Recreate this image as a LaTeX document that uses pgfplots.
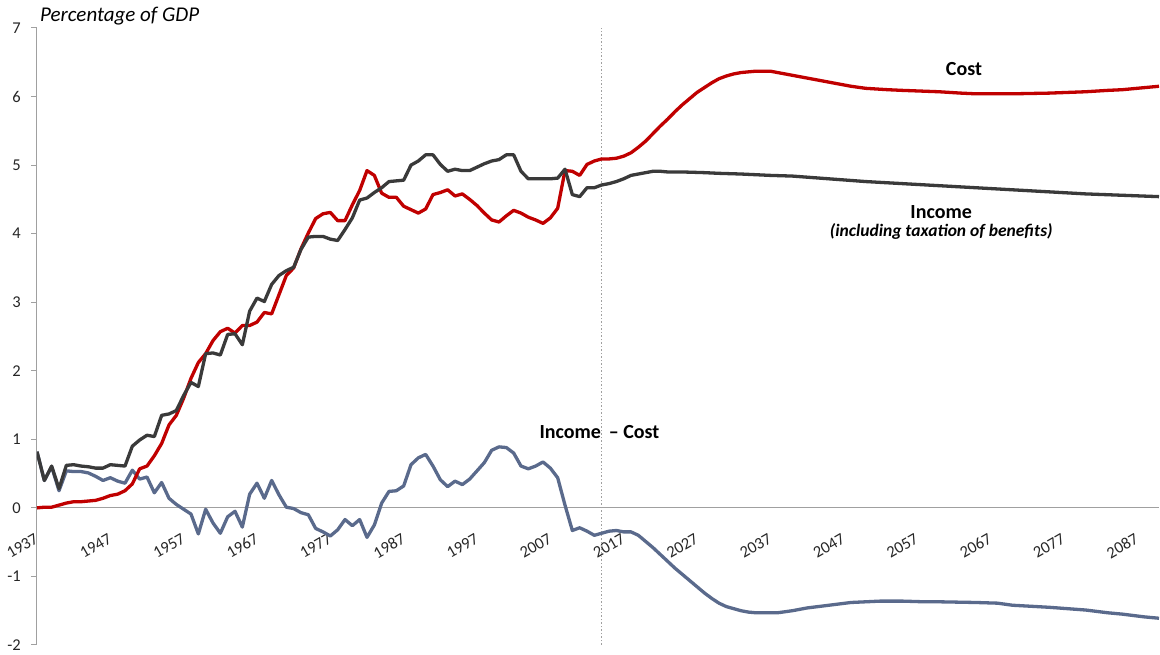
\documentclass[border=0pt]{standalone}
\usepackage{fontspec}
\setmainfont{Carlito}
\usepackage{pgfplots}
\pgfplotsset{compat=1.18}
\usepackage{pgfplotstable}

\definecolor{costred}{HTML}{C00000}
\definecolor{incgray}{HTML}{3A3A3A}
\definecolor{diffblue}{HTML}{5A6A8C}
\definecolor{axisgray}{HTML}{A0A0A0}

% Income (including taxation of benefits), % of GDP
\pgfplotstableread{
year val
1937 0.82
1938 0.40
1939 0.61
1940 0.28
1941 0.62
1942 0.63
1943 0.61
1944 0.60
1945 0.58
1946 0.58
1947 0.63
1948 0.62
1949 0.61
1950 0.90
1951 0.99
1952 1.06
1953 1.04
1954 1.35
1955 1.37
1956 1.42
1957 1.64
1958 1.83
1959 1.77
1960 2.25
1961 2.26
1962 2.23
1963 2.53
1964 2.54
1965 2.38
1966 2.87
1967 3.06
1968 3.01
1969 3.26
1970 3.39
1971 3.46
1972 3.51
1973 3.77
1974 3.95
1975 3.96
1976 3.96
1977 3.92
1978 3.90
1979 4.06
1980 4.23
1981 4.49
1982 4.52
1983 4.60
1984 4.67
1985 4.76
1986 4.77
1987 4.78
1988 5.00
1989 5.06
1990 5.15
1991 5.15
1992 5.01
1993 4.91
1994 4.94
1995 4.92
1996 4.92
1997 4.97
1998 5.02
1999 5.06
2000 5.08
2001 5.15
2002 5.15
2003 4.91
2004 4.80
2005 4.80
2006 4.80
2007 4.80
2008 4.81
2009 4.94
2010 4.57
2011 4.54
2012 4.67
2013 4.67
2014 4.71
2015 4.73
2016 4.76
2017 4.80
2018 4.85
2019 4.87
2020 4.89
2021 4.91
2022 4.91
2023 4.90
2025 4.90
2028 4.89
2030 4.88
2033 4.87
2035 4.86
2037 4.85
2040 4.84
2045 4.80
2050 4.76
2055 4.73
2060 4.70
2065 4.67
2070 4.64
2075 4.61
2080 4.58
2085 4.56
2090 4.54
}\income

% Cost, % of GDP
\pgfplotstableread{
year val
1937 0.00
1938 0.01
1939 0.01
1940 0.04
1941 0.07
1942 0.09
1943 0.09
1944 0.10
1945 0.11
1946 0.14
1947 0.18
1948 0.20
1949 0.25
1950 0.35
1951 0.57
1952 0.61
1953 0.76
1954 0.94
1955 1.21
1956 1.35
1957 1.60
1958 1.89
1959 2.12
1960 2.25
1961 2.44
1962 2.57
1963 2.62
1964 2.55
1965 2.66
1966 2.66
1967 2.71
1968 2.85
1969 2.83
1970 3.11
1971 3.39
1972 3.50
1973 3.78
1974 4.01
1975 4.22
1976 4.29
1977 4.31
1978 4.19
1979 4.19
1980 4.42
1981 4.63
1982 4.92
1983 4.85
1984 4.59
1985 4.53
1986 4.53
1987 4.40
1988 4.35
1989 4.30
1990 4.36
1991 4.57
1992 4.60
1993 4.64
1994 4.55
1995 4.58
1996 4.50
1997 4.41
1998 4.30
1999 4.20
2000 4.17
2001 4.26
2002 4.34
2003 4.30
2004 4.24
2005 4.20
2006 4.15
2007 4.23
2008 4.37
2009 4.92
2010 4.91
2011 4.85
2012 5.01
2013 5.06
2014 5.09
2015 5.09
2016 5.10
2017 5.13
2018 5.18
2019 5.26
2020 5.35
2021 5.46
2022 5.57
2023 5.67
2024 5.78
2025 5.88
2026 5.97
2027 6.06
2028 6.13
2029 6.20
2030 6.26
2031 6.30
2032 6.33
2033 6.35
2034 6.36
2035 6.37
2036 6.37
2037 6.37
2038 6.35
2040 6.31
2042 6.27
2045 6.21
2048 6.15
2050 6.12
2053 6.10
2055 6.09
2060 6.07
2063 6.05
2065 6.04
2070 6.04
2075 6.05
2080 6.07
2083 6.09
2085 6.10
2088 6.13
2090 6.15
}\cost

% Income - Cost, % of GDP
\pgfplotstableread{
year val
1937 0.82
1938 0.40
1939 0.60
1940 0.25
1941 0.54
1942 0.53
1943 0.53
1944 0.51
1945 0.46
1946 0.40
1947 0.44
1948 0.39
1949 0.36
1950 0.55
1951 0.42
1952 0.45
1953 0.22
1954 0.37
1955 0.14
1956 0.05
1957 -0.02
1958 -0.09
1959 -0.38
1960 -0.02
1961 -0.22
1962 -0.37
1963 -0.13
1964 -0.05
1965 -0.28
1966 0.20
1967 0.36
1968 0.14
1969 0.40
1970 0.19
1971 0.01
1972 -0.01
1973 -0.07
1974 -0.10
1975 -0.30
1976 -0.35
1977 -0.41
1978 -0.32
1979 -0.17
1980 -0.26
1981 -0.17
1982 -0.43
1983 -0.25
1984 0.07
1985 0.24
1986 0.25
1987 0.32
1988 0.63
1989 0.73
1990 0.78
1991 0.61
1992 0.41
1993 0.31
1994 0.39
1995 0.34
1996 0.42
1997 0.54
1998 0.66
1999 0.84
2000 0.89
2001 0.88
2002 0.80
2003 0.61
2004 0.57
2005 0.61
2006 0.67
2007 0.58
2008 0.44
2009 0.04
2010 -0.33
2011 -0.29
2012 -0.34
2013 -0.40
2014 -0.37
2015 -0.34
2016 -0.33
2017 -0.35
2018 -0.35
2019 -0.40
2020 -0.49
2021 -0.58
2022 -0.68
2023 -0.78
2024 -0.88
2025 -0.97
2026 -1.06
2027 -1.15
2028 -1.24
2029 -1.32
2030 -1.39
2031 -1.44
2032 -1.47
2033 -1.50
2034 -1.52
2035 -1.53
2038 -1.53
2040 -1.50
2042 -1.46
2045 -1.42
2048 -1.38
2050 -1.37
2052 -1.36
2055 -1.36
2058 -1.37
2060 -1.37
2065 -1.38
2068 -1.39
2070 -1.42
2075 -1.45
2080 -1.49
2083 -1.53
2085 -1.55
2088 -1.59
2090 -1.61
}\diff

\newcommand\tickfont{\fontsize{16.5}{20}\selectfont}

\begin{document}
\begin{tikzpicture}
\begin{axis}[
    scale only axis,
    width=1122pt, height=617pt,
    xmin=1937, xmax=2090,
    ymin=-2, ymax=7,
    axis x line=middle,
    axis y line=left,
    axis line style={draw=axisgray, line width=1pt, -},
    every inner x axis line/.append style={-},
    every outer x axis line/.append style={-},
    every inner y axis line/.append style={-},
    every outer y axis line/.append style={-},
    hide obscured x ticks=false,
    xtick={1937,1947,...,2087},
    ytick={-2,-1,0,1,2,3,4,5,6,7},
    x tick style={draw=none},
    y tick style={draw=axisgray, line width=1pt},
    tick align=outside,
    major tick length=6pt,
    minor tick num=0,
    xticklabel={\tickfont\pgfmathprintnumber[1000 sep={},assume math mode=true]{\tick}},
    yticklabel={\tickfont\pgfmathprintnumber[assume math mode=true]{\tick}},
    xticklabel style={yshift=-23.5pt, rotate=30, anchor=east, inner sep=0pt,
        text=black!85},
    yticklabel style={anchor=east, inner sep=0pt, xshift=-10pt, text=black!85},
    clip mode=individual,
    line join=round,
]
\addplot[draw=axisgray, line width=1.2pt, dash pattern=on 1.5pt off 2pt]
    coordinates {(2014,-2) (2014,7)};
\addplot[diffblue, line width=3.3pt] table[x=year, y=val] {\diff};
\addplot[costred, line width=3.3pt] table[x=year, y=val] {\cost};
\addplot[incgray, line width=3.3pt] table[x=year, y=val] {\income};

\node[font=\fontsize{20}{24}\selectfont\bfseries] at (axis cs:2063.4,6.40) {Cost};
\node[font=\fontsize{20}{24}\selectfont\bfseries] at (axis cs:2060.3,4.31) {Income};
\node[font=\fontsize{17.5}{20}\selectfont\bfseries\itshape] at (axis cs:2060.3,4.03) {(including taxation of benefits)};
\node[font=\fontsize{20}{24}\selectfont\bfseries] at (axis cs:2013.7,1.11) {Income \,– Cost};
\node[anchor=base west, inner sep=0pt, font=\fontsize{21}{25}\selectfont\itshape]
    at ([xshift=3pt, yshift=6.3pt]rel axis cs:0,1) {Percentage of GDP};

\coordinate (SW) at (rel axis cs:0,0);
\coordinate (NE) at (rel axis cs:1,1);
\end{axis}
\pgfresetboundingbox
\useasboundingbox ([xshift=-37pt, yshift=-10pt]SW) rectangle ([xshift=1pt, yshift=28pt]NE);
\end{tikzpicture}
\end{document}
